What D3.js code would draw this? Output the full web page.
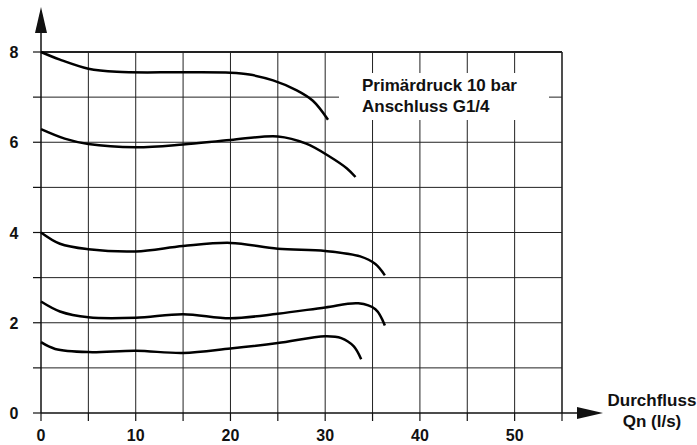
<!DOCTYPE html>
<html>
<head>
<meta charset="utf-8">
<script src="https://cdn.jsdelivr.net/npm/d3@7"></script>
<style>
  body { margin: 0; background: #fff; }
  text { font-family: "Liberation Sans", Arial, sans-serif; font-weight: bold; fill: #111; }
</style>
</head>
<body>
<div id="app"></div>
<script>
// Data (flow Qn in l/s, pressure in bar)
const xTicks = [0, 10, 20, 30, 40, 50];
const yTicks = [0, 2, 4, 6, 8];
const curve1 = [[0, 8], [2, 7.83], [5, 7.63], [8, 7.56], [15, 7.55], [20, 7.54], [22, 7.5], [24.5, 7.37], [27, 7.15], [28.7, 6.92], [30.3, 6.5]];
const curve2 = [[0, 6.29], [2.5, 6.08], [5, 5.96], [10, 5.89], [15, 5.95], [20, 6.05], [25, 6.13], [28, 5.97], [30.5, 5.68], [32.3, 5.42], [33.2, 5.23]];
const curve3 = [[0, 4.0], [2, 3.75], [5, 3.63], [10, 3.58], [15, 3.7], [20, 3.77], [25, 3.64], [30, 3.59], [33.7, 3.47], [35.3, 3.3], [36.3, 3.05]];
const curve4 = [[0, 2.47], [2, 2.25], [5, 2.12], [10, 2.11], [15, 2.19], [20, 2.1], [25, 2.2], [30, 2.34], [33.5, 2.43], [35.3, 2.3], [36.3, 1.94]];
const curve5 = [[0, 1.57], [1.5, 1.42], [5, 1.35], [10, 1.38], [15, 1.33], [20, 1.43], [25, 1.55], [30, 1.7], [31.7, 1.66], [33, 1.48], [33.8, 1.19]];
const curves = [curve1, curve2, curve3, curve4, curve5];
const noteLines = ['Primärdruck 10 bar', 'Anschluss G1/4'];
const axisLabel = ['Durchfluss', 'Qn (l/s)'];

const width = 697;
const height = 445;
const margin = { top: 52, right: 135, bottom: 32, left: 41 };

const xScale = d3.scaleLinear().domain([0, 55]).range([margin.left, width - margin.right]);
const yScale = d3.scaleLinear().domain([0, 8]).range([height - margin.bottom, margin.top]);

const svg = d3.select('#app')
  .append('svg')
  .attr('width', width)
  .attr('height', height);

// Grid
const grid = svg.append('g').attr('id', 'grid');
grid.selectAll('line.v')
  .data(d3.range(5, 56, 5))
  .join('line')
  .attr('class', 'v')
  .attr('x1', (d) => xScale(d))
  .attr('x2', (d) => xScale(d))
  .attr('y1', yScale(0))
  .attr('y2', yScale(8))
  .attr('stroke', '#222')
  .attr('stroke-width', (d) => (d === 55 ? 1.6 : 1));
grid.selectAll('line.h')
  .data(d3.range(1, 9))
  .join('line')
  .attr('class', 'h')
  .attr('x1', xScale(0))
  .attr('x2', xScale(55))
  .attr('y1', (d) => yScale(d))
  .attr('y2', (d) => yScale(d))
  .attr('stroke', '#222')
  .attr('stroke-width', (d) => (d === 8 ? 2 : 1));

// Note box masks the grid
svg.append('rect')
  .attr('x', 339)
  .attr('y', 73)
  .attr('width', 210)
  .attr('height', 47)
  .attr('fill', '#fff');
svg.selectAll('text.note')
  .data(noteLines)
  .join('text')
  .attr('class', 'note')
  .attr('x', 362)
  .attr('y', (d, i) => 91 + i * 21)
  .attr('font-size', 17)
  .text((d) => d);

// Ticks
const tickLen = 8;
svg.selectAll('line.ytick')
  .data(d3.range(0, 9))
  .join('line')
  .attr('class', 'ytick')
  .attr('x1', xScale(0) - tickLen)
  .attr('x2', xScale(0))
  .attr('y1', (d) => yScale(d))
  .attr('y2', (d) => yScale(d))
  .attr('stroke', '#111')
  .attr('stroke-width', 1.2);
svg.selectAll('line.xtick')
  .data(d3.range(0, 56, 5))
  .join('line')
  .attr('class', 'xtick')
  .attr('x1', (d) => xScale(d))
  .attr('x2', (d) => xScale(d))
  .attr('y1', yScale(0))
  .attr('y2', yScale(0) + tickLen)
  .attr('stroke', '#111')
  .attr('stroke-width', 1.2);

// Axes with arrows
svg.append('line')
  .attr('x1', xScale(0)).attr('x2', xScale(0))
  .attr('y1', yScale(0)).attr('y2', 20)
  .attr('stroke', '#111').attr('stroke-width', 1.5);
svg.append('path')
  .attr('d', `M${xScale(0)},7 L${xScale(0) - 6},33 L${xScale(0) + 6},33 Z`)
  .attr('fill', '#111');
svg.append('line')
  .attr('x1', xScale(0)).attr('x2', 590)
  .attr('y1', yScale(0)).attr('y2', yScale(0))
  .attr('stroke', '#111').attr('stroke-width', 1.5);
svg.append('path')
  .attr('d', `M603,${yScale(0)} L577,${yScale(0) - 6} L577,${yScale(0) + 6} Z`)
  .attr('fill', '#111');

// Tick labels
svg.selectAll('text.ylab')
  .data(yTicks)
  .join('text')
  .attr('class', 'ylab')
  .attr('x', 14)
  .attr('y', (d) => yScale(d) + 6)
  .attr('text-anchor', 'middle')
  .attr('font-size', 16)
  .text((d) => d);
svg.selectAll('text.xlab')
  .data(xTicks)
  .join('text')
  .attr('class', 'xlab')
  .attr('x', (d) => xScale(d))
  .attr('y', 441)
  .attr('text-anchor', 'middle')
  .attr('font-size', 16)
  .text((d) => d);
svg.selectAll('text.axlab')
  .data(axisLabel)
  .join('text')
  .attr('class', 'axlab')
  .attr('x', 652)
  .attr('y', (d, i) => 406 + i * 21)
  .attr('text-anchor', 'middle')
  .attr('font-size', 17)
  .text((d) => d);

// Curves
const line = d3.line()
  .x((d) => xScale(d[0]))
  .y((d) => yScale(d[1]))
  .curve(d3.curveCatmullRom.alpha(0.5));
svg.selectAll('path.curve')
  .data(curves)
  .join('path')
  .attr('class', 'curve')
  .attr('d', line)
  .attr('fill', 'none')
  .attr('stroke', '#000')
  .attr('stroke-width', 2.5)
  .attr('stroke-linecap', 'butt');
</script>
</body>
</html>
